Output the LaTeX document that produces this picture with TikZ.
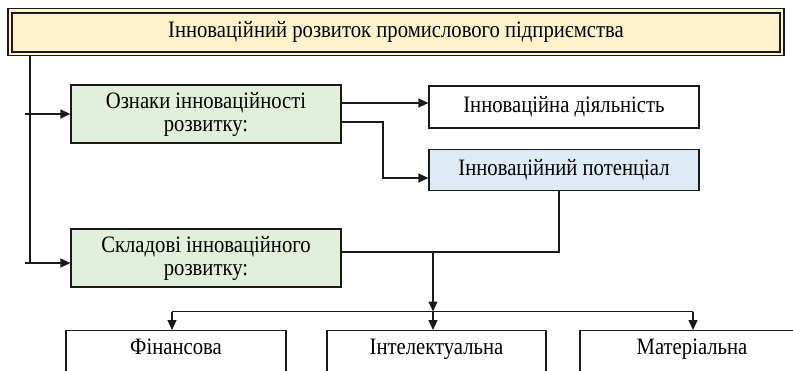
\documentclass[tikz,border=0pt]{standalone}
\usepackage{fontspec}
\setmainfont{Liberation Serif}[FakeStretch=0.88]
\usetikzlibrary{arrows.meta}
\definecolor{cream}{HTML}{FFF2CC}
\definecolor{leaf}{HTML}{E2EFDA}
\definecolor{sky}{HTML}{DEEBF7}
\definecolor{ink}{HTML}{1A1A1A}
\tikzset{
  box/.style={draw=ink, line width=1.2pt, rectangle, inner sep=2pt, align=center,
              font=\fontsize{23.5}{23}\selectfont},
  arr/.style={draw=ink, line width=1.2pt, -{Triangle[length=10pt,width=9pt]}},
  wire/.style={draw=ink, line width=1.2pt},
  leafbox/.style={box, fill=leaf, minimum width=270pt},
  basebox/.style={box, anchor=north, text height=20pt, text depth=60pt, inner ysep=4pt}
}
\begin{document}
\begin{tikzpicture}[x=1pt, y=-1pt]
\useasboundingbox (0,0) rectangle (793,370);
\clip (0,0) rectangle (793,370);
\fill[white] (0,0) rectangle (793,370);

% title box with double border
\node[draw=ink, line width=1.2pt, fill=cream, minimum width=776pt, minimum height=47pt] (titleout) at (396,32) {};
\node[box, line width=2pt, fill=cream, minimum width=768pt, minimum height=39pt] (title) at (396,32)
  {Інноваційний розвиток промислового підприємства};

% second level
\node[leafbox, minimum height=58pt] (oz) at (206,114) {Ознаки інноваційності\\розвитку:};
\node[leafbox, minimum height=58pt] (sk) at (206,258) {Складові інноваційного\\розвитку:};
\node[box, minimum width=270pt, minimum height=42pt] (dial) at (564,107) {Інноваційна діяльність};
\node[box, fill=sky, minimum width=270pt, minimum height=41pt] (pot) at (564,170) {Інноваційний потенціал};

% bottom row
\node[basebox, minimum width=220pt] (fin) at (176,330) {Фінансова};
\node[basebox, minimum width=219pt] (intel) at (436.5,330) {Інтелектуальна};
\node[basebox, minimum width=224pt] (mat) at (692,330) {Матеріальна};

% junction points
\coordinate (trunk) at (30,263);
\coordinate (s1) at (25,114);
\coordinate (s2) at (25,263);
\coordinate (bend) at (383,122);
\coordinate (hub) at (433,252);
\coordinate (bus) at (433,311.5);
\coordinate (busl) at (172,311.5);
\coordinate (busr) at (693,311.5);

% trunk from the title
\draw[wire] (titleout.south -| trunk) -- (trunk);
\draw[arr] (s1) -- (oz.west);
\draw[arr] (s2) -- (s2 -| sk.west);

% links from the first green box
\draw[arr] (oz.east |- 0,103) -- (dial.west |- 0,103);
\draw[arr] (oz.east |- bend) -- (bend) |- (pot.west |- 0,178);

% potential and components meet at the hub
\draw[wire] (pot.south -| 559,0) |- (hub);
\draw[wire] (sk.east |- hub) -- (hub);
\draw[arr] (hub) -- (bus);

% distribution bus
\draw[wire] (busl) -- (busr);
\draw[arr] (busl) -- (busl |- fin.north);
\draw[arr] (bus) -- (bus |- intel.north);
\draw[arr] (busr) -- (busr |- mat.north);
\end{tikzpicture}
\end{document}
